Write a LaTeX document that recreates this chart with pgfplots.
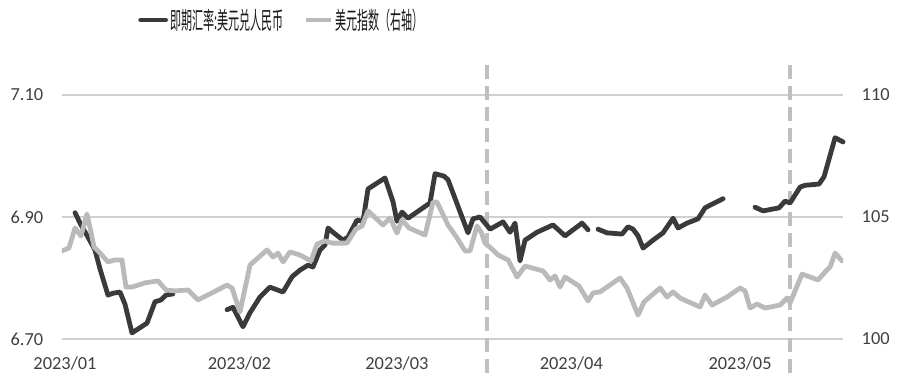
\documentclass[border=0pt]{standalone}
\usepackage{pgfplots}
\pgfplotsset{compat=1.18}
\usepackage{pgfplotstable}
\usepackage{fontspec}
\setmainfont{Carlito}
\newfontfamily\cjk[FakeStretch=0.46]{Noto Sans CJK SC}
\definecolor{darkc}{HTML}{3A3A3A}
\definecolor{greyc}{HTML}{BABABA}
\definecolor{dashc}{HTML}{BFBFBF}
\definecolor{gridc}{HTML}{D0D0D0}
\definecolor{textc}{HTML}{404040}

% Spot rate USD/CNY (x = days since 2023-01-01)
\pgfplotstableread{
d v
1.78 6.907
2.84 6.887
4.09 6.867
5.33 6.846
6.22 6.815
7.64 6.772
8.53 6.775
9.78 6.777
10.67 6.757
11.91 6.710
14.58 6.726
16.00 6.761
17.07 6.764
17.96 6.772
19.20 6.774
24.00 nan
28.80 6.748
29.87 6.752
31.64 6.720
32.89 6.743
34.67 6.769
36.44 6.785
37.87 6.780
38.76 6.777
40.36 6.802
41.78 6.813
43.20 6.821
44.09 6.818
45.33 6.846
46.22 6.854
46.76 6.882
47.64 6.875
49.42 6.862
50.31 6.867
51.91 6.895
52.98 6.893
53.87 6.946
56.89 6.964
58.31 6.925
59.02 6.893
59.91 6.908
60.98 6.898
64.89 6.923
65.78 6.971
67.38 6.967
68.09 6.961
71.64 6.874
72.53 6.897
73.78 6.900
74.67 6.890
75.56 6.880
77.87 6.892
79.11 6.875
80.00 6.890
80.89 6.828
81.78 6.862
83.91 6.875
86.76 6.887
88.89 6.869
91.91 6.890
92.98 6.879
93.90 nan
94.76 6.880
96.36 6.874
99.02 6.872
100.09 6.884
100.98 6.880
101.87 6.869
102.76 6.849
104.53 6.862
106.31 6.874
108.09 6.898
108.98 6.882
110.58 6.890
112.53 6.897
113.78 6.915
115.02 6.921
116.98 6.930
120.00 nan
122.67 6.916
124.09 6.910
126.93 6.915
128.00 6.926
128.89 6.923
130.67 6.949
131.56 6.952
134.04 6.954
134.93 6.966
136.89 7.030
138.31 7.023
}\darktab

% US dollar index (right axis)
\pgfplotstableread{
d v
-0.53 103.61
0.71 103.73
1.78 104.55
2.84 104.22
3.91 105.12
4.62 104.39
5.16 103.77
6.40 103.48
7.64 103.16
8.89 103.24
10.13 103.24
10.84 102.13
11.91 102.13
14.22 102.30
16.53 102.38
17.96 102.01
19.56 101.97
21.87 102.01
23.64 101.60
26.13 101.89
28.80 102.21
29.69 102.09
31.11 101.11
32.89 103.03
35.91 103.65
36.98 103.36
37.87 103.52
38.76 103.16
40.00 103.57
41.78 103.44
43.73 103.20
44.80 103.89
46.22 104.02
47.47 103.93
50.13 103.93
51.73 104.51
52.80 104.63
53.87 105.25
56.53 104.67
57.78 104.96
59.02 104.34
59.91 104.88
61.16 104.55
64.00 104.26
65.42 105.61
66.13 105.61
68.09 104.67
69.69 104.14
71.11 103.61
72.00 103.61
73.24 104.63
73.96 104.39
74.67 103.93
76.09 103.65
76.98 103.44
78.76 103.24
80.36 102.54
81.78 102.99
84.98 102.79
86.22 102.42
87.11 102.58
88.00 102.13
88.89 102.54
91.38 102.17
92.98 101.56
93.87 101.89
95.11 101.93
98.67 102.50
99.91 102.09
101.87 100.98
102.93 101.52
105.78 102.09
107.02 101.72
108.09 101.93
109.33 101.68
112.89 101.31
113.78 101.80
115.02 101.39
117.69 101.72
120.00 102.09
120.89 101.97
121.78 101.27
123.02 101.43
124.44 101.27
127.11 101.39
128.36 101.68
128.89 101.48
131.02 102.66
133.87 102.42
135.29 102.79
136.00 102.95
136.89 103.52
138.13 103.20
}\greytab

\begin{document}
\begin{tikzpicture}
\useasboundingbox (-46.5pt,-36.75pt) rectangle (628.5pt,254.25pt);
\begin{axis}[
  scale only axis, width=585.75pt, height=183pt,
  at={(0pt,0pt)}, anchor=south west,
  xmin=-0.53, xmax=138.3, ymin=6.70, ymax=7.10,
  clip=false,
  axis x line*=bottom, axis y line*=left,
  x axis line style={draw=gridc, line width=1.4pt, -},
  y axis line style={draw=none},
  major tick length=0pt,
  xtick={0,31,59,90,120},
  xticklabels={2023/01,2023/02,2023/03,2023/04,2023/05},
  ytick={6.70,6.90,7.10},
  yticklabel={\pgfmathprintnumber[fixed,fixed zerofill,precision=2]{\tick}},
  /pgf/number format/assume math mode=true,
  ymajorgrids, grid style={draw=gridc, line width=1.1pt},
  tick label style={font=\fontsize{13.8}{16}\selectfont, text=textc},
  yticklabel style={xshift=-10.5pt},
  xticklabel style={yshift=-10pt},
  unbounded coords=jump,
  legend style={draw=none, fill=none, at={(0.0973,1.307)}, anchor=west,
    inner sep=0pt, font=\cjk\fontsize{18}{20}\selectfont, text=black!90,
    /tikz/every even column/.append style={column sep=13.5pt},
    nodes={inner sep=1.5pt}},
  legend columns=2,
  legend image code/.code={\draw[#1] (0pt,0pt) -- (18.75pt,0pt);},
]
\addplot[dashc, line width=3pt, dash pattern=on 10.5pt off 5.25pt, forget plot]
  coordinates {(75.1,7.149) (75.1,6.636)};
\addplot[dashc, line width=3pt, dash pattern=on 10.5pt off 5.25pt, forget plot]
  coordinates {(128.8,7.149) (128.8,6.636)};
\addplot[darkc, line width=3.6pt, line join=round, line cap=round] table[x=d,y=v] {\darktab};
\addlegendentry{即期汇率:美元兑人民币}
\addlegendimage{greyc, line width=3.6pt}
\addlegendentry{美元指数（右轴）}
\end{axis}
\begin{axis}[
  scale only axis, width=585.75pt, height=183pt,
  at={(0pt,0pt)}, anchor=south west,
  xmin=-0.53, xmax=138.3, ymin=100, ymax=110,
  axis x line=none, axis y line*=right,
  y axis line style={draw=none},
  major tick length=0pt,
  ytick={100,105,110},
  /pgf/number format/assume math mode=true,
  tick label style={font=\fontsize{13.8}{16}\selectfont, text=textc},
  yticklabel style={xshift=10.5pt},
]
\addplot[greyc, line width=3.6pt, line join=round, line cap=round] table[x=d,y=v] {\greytab};
\end{axis}
\end{tikzpicture}
\end{document}
